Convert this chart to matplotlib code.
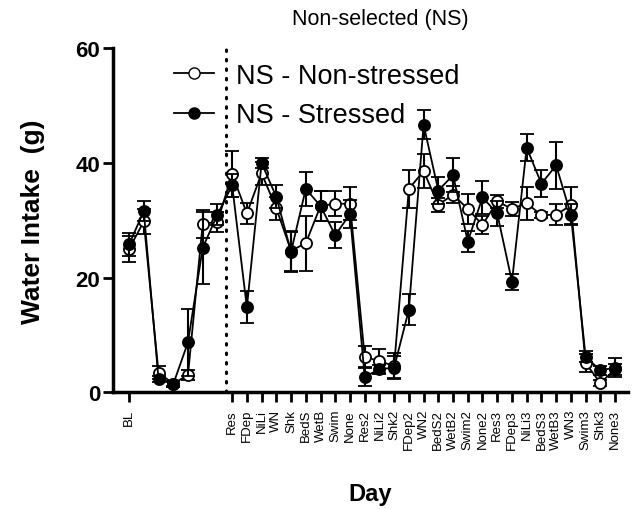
import numpy as np
import matplotlib.pyplot as plt
from matplotlib.lines import Line2D

plt.rcParams['font.family'] = ['Liberation Sans', 'DejaVu Sans']

# tick labels (day index 0 = BL, 7..33 = test days)
tick_pos = [0] + list(range(7, 34))
tick_labels = ['BL', 'Res', 'FDep', 'NiLi', 'WN', 'Shk', 'BedS', 'WetB', 'Swim', 'None',
               'Res2', 'NiLi2', 'Shk2', 'FDep2', 'WN2', 'BedS2', 'WetB2', 'Swim2', 'None2',
               'Res3', 'FDep3', 'NiLi3', 'BedS3', 'WetB3', 'WN3', 'Swim3', 'Shk3', 'None3']

# NS - Non-stressed (mean, sem)
ns_mean = [25.0, 29.8, 3.4, 1.5, 3.0, 29.4, 29.7, 38.1, 31.2, 38.2, 32.1, 24.7, 26.0, 32.5,
           32.9, 32.9, 6.2, 5.4, 4.6, 35.5, 38.6, 32.7, 34.5, 32.0, 29.2, 33.3, 32.0, 33.0,
           30.9, 31.0, 32.6, 5.1, 1.6, 4.0]
ns_sem = [2.3, 2.2, 1.1, 0.5, 0.8, 2.4, 1.8, 4.0, 1.8, 2.0, 2.0, 3.5, 4.8, 2.7,
          2.2, 2.9, 1.8, 2.1, 2.2, 3.3, 2.9, 1.2, 1.5, 2.6, 1.5, 1.1, 1.2, 2.9,
          0.5, 1.8, 3.3, 1.5, 0.5, 1.0]

# NS - Stressed (mean, sem)
st_mean = [25.8, 31.6, 2.3, 1.4, 8.7, 25.2, 31.0, 36.1, 14.8, 40.0, 34.1, 24.5, 35.5, 32.5,
           27.4, 31.1, 2.7, 4.0, 4.3, 14.4, 46.7, 35.2, 37.9, 26.3, 34.0, 31.2, 19.3, 42.7,
           36.4, 39.6, 31.0, 6.2, 3.8, 4.3]
st_sem = [2.0, 1.8, 0.5, 0.5, 5.9, 6.3, 1.8, 2.0, 2.8, 0.9, 2.0, 3.5, 3.0, 2.7,
          2.3, 2.4, 1.6, 0.8, 2.0, 2.7, 2.5, 2.4, 3.0, 1.9, 2.9, 2.2, 1.4, 2.3,
          2.4, 4.1, 1.9, 1.0, 0.8, 1.6]

x = np.arange(len(ns_mean))

fig = plt.figure(figsize=(6.34, 5.10), dpi=100)
ax = fig.add_axes([0.178, 0.229, 0.813, 0.674])

ax.errorbar(x, ns_mean, yerr=ns_sem, color='black', lw=1.3, marker='o', ms=8,
            mfc='white', mec='black', mew=1.3, capsize=5, capthick=1.5, elinewidth=1.5,
            zorder=3, clip_on=False)
ax.errorbar(x, st_mean, yerr=st_sem, color='black', lw=1.3, marker='o', ms=8,
            mfc='black', mec='black', mew=1.3, capsize=5, capthick=1.5, elinewidth=1.5,
            zorder=4, clip_on=False)

# separator between baseline and test days
ax.plot([6.6, 6.6], [0, 60], color='black', lw=2.2, ls=(0, (0.5, 2.6)),
        dash_capstyle='round', zorder=2, clip_on=False)

ax.set_xlim(-1.1, 33.9)
ax.set_ylim(0, 60)
ax.set_yticks([0, 20, 40, 60])
ax.set_xticks(tick_pos)
ax.set_xticklabels(tick_labels, rotation=90, fontsize=9.5)
for t in ax.get_yticklabels():
    t.set_fontsize(16)
    t.set_fontweight('bold')

for s in ['top', 'right']:
    ax.spines[s].set_visible(False)
for s in ['left', 'bottom']:
    ax.spines[s].set_linewidth(2.5)
ax.tick_params(axis='x', length=7, width=2, pad=5)
ax.tick_params(axis='y', length=7, width=2, pad=2)

ax.set_ylabel('Water Intake  (g)', fontsize=19, fontweight='bold', labelpad=22)
ax.set_xlabel('Day', fontsize=17, fontweight='bold', labelpad=24)
fig.text(0.60, 0.962, 'Non-selected (NS)', fontsize=15.5, ha='center', va='center')

handles = [Line2D([], [], color='black', lw=1.3, marker='o', ms=8, mfc='white', mec='black'),
           Line2D([], [], color='black', lw=1.3, marker='o', ms=8, mfc='black', mec='black')]
ax.legend(handles, ['NS - Non-stressed', 'NS - Stressed'], loc='upper left',
          bbox_to_anchor=(0.274, 0.875), bbox_transform=fig.transFigure, frameon=False,
          fontsize=19.5, handlelength=1.5, handletextpad=0.8, labelspacing=0.5,
          borderaxespad=0, borderpad=0)

fig.savefig('out.png', dpi=100)
